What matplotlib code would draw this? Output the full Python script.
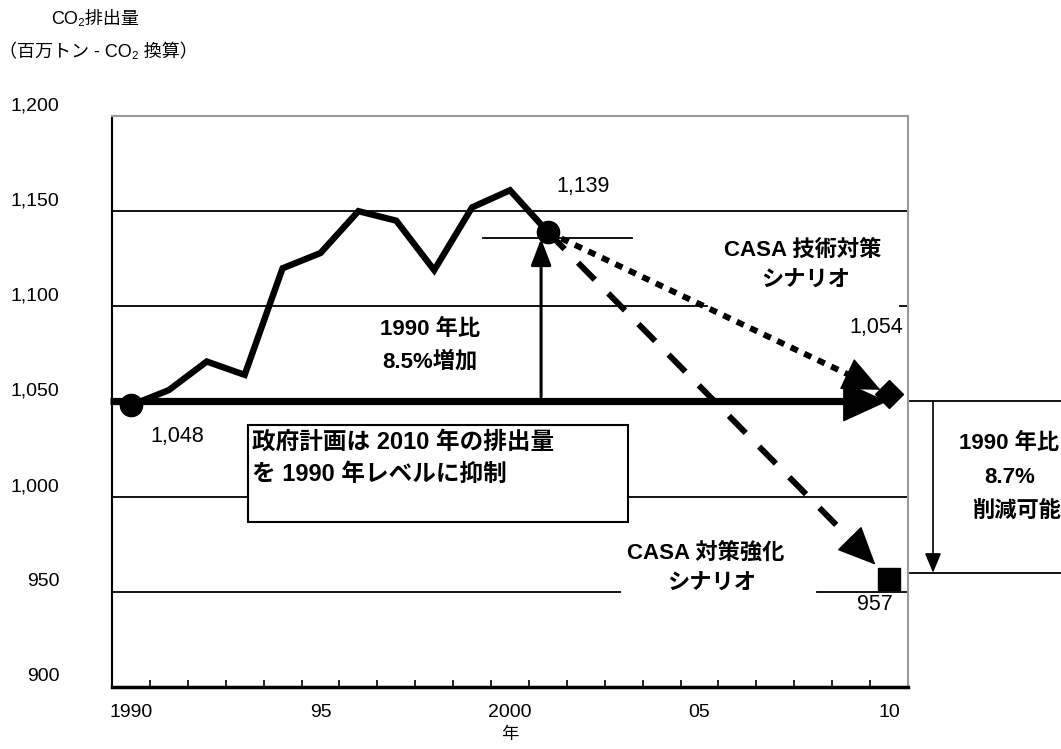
import matplotlib
matplotlib.use('Agg')
import matplotlib.pyplot as plt
import matplotlib.transforms as mtransforms
from matplotlib.patches import Rectangle
import numpy as np

plt.rcParams['font.family'] = ['Liberation Sans', 'Noto Sans CJK JP', 'DejaVu Sans']

# 実績値 (百万トン-CO2)
years = np.arange(1990, 2002)
emissions = [1048, 1056, 1071, 1064, 1120, 1128, 1150, 1145, 1119, 1152, 1161, 1139]
base_level = 1050          # 1990年レベル (政府計画)
target_year = 2010
tech_scenario = 1054       # CASA 技術対策シナリオ
strong_scenario = 957      # CASA 対策強化シナリオ

yticks = [900, 950, 1000, 1050, 1100, 1150, 1200]
xtick_years = [1990, 1995, 2000, 2005, 2010]
xtick_labels = ['1990', '95', '2000', '05', '10']

x = years - 1990
x_last = x[-1]
x_target = target_year - 1990

fig = plt.figure(figsize=(10.61, 7.49), dpi=100)
ax = fig.add_axes([112 / 1061, 1 - 687 / 749, 796 / 1061, 571 / 749])
ax.set_xlim(-0.5, 20.5)
ax.set_ylim(900, 1200)

# 枠
for side in ['top', 'right']:
    ax.spines[side].set_color('#9a9a9a')
    ax.spines[side].set_linewidth(1.5)
ax.spines['left'].set_linewidth(1.5)
ax.spines['bottom'].set_linewidth(2.5)

# 目盛
ax.set_xticks([y - 1990 for y in xtick_years])
ax.set_xticklabels(xtick_labels)
ax.set_xticks(np.arange(-0.5, 21, 1), minor=True)
ax.tick_params(axis='x', which='major', length=0, pad=12, labelsize=14)
ax.tick_params(axis='x', which='minor', direction='in', length=5, width=1.2)
ax.set_yticks([])
ax.set_xlabel('年', fontsize=12.5, labelpad=4)

ylab_tr = mtransforms.offset_copy(ax.get_yaxis_transform(), fig=fig, y=10, units='dots')
for v in yticks:
    ax.text(-0.066, v, f'{v:,}', transform=ylab_tr, ha='right', va='center', fontsize=14)

# 横線
grid_kw = dict(color='k', lw=1.3, zorder=1)
ax.axhline(1150, **grid_kw)
ax.axhline(1100, xmax=0.747, **grid_kw)
ax.axhline(1100, xmin=0.99, **grid_kw)
ax.axhline(1000, **grid_kw)
ax.axhline(950, xmax=0.638, **grid_kw)
ax.axhline(950, xmin=0.886, **grid_kw)

# 政府計画の説明枠
ax.add_patch(Rectangle((3.09, 986.8), 10.02, 50.6, facecolor='white',
                       edgecolor='k', lw=1.5, zorder=2))
ax.text(3.2, 1028.4, '政府計画は 2010 年の排出量', fontsize=17, fontweight='bold',
        ha='left', va='center', zorder=3)
ax.text(3.2, 1011.6, 'を 1990 年レベルに抑制', fontsize=17, fontweight='bold',
        ha='left', va='center', zorder=3)

# 1990年レベルの太矢印
ax.plot([-0.55, 19.0], [base_level, base_level], color='k', lw=5.2,
        solid_capstyle='butt', zorder=4, clip_on=False)
ax.annotate('', xy=(19.95, base_level), xytext=(18.9, base_level),
            arrowprops=dict(arrowstyle='-|>,head_length=1.2,head_width=0.55',
                            mutation_scale=25, lw=1, color='k', shrinkA=0, shrinkB=0),
            zorder=5)

# 実績の折れ線
ax.plot(x, emissions, color='k', lw=4.6, solid_joinstyle='miter',
        solid_capstyle='butt', zorder=6)
ax.plot([x[0], x_last], [emissions[0], emissions[-1]], 'o', ms=16, color='k', zorder=7)


def scenario_arrow(y_end, ls, t_body, t_head, t_tip):
    x0, y0 = x_last, emissions[-1]
    dx, dy = x_target - x0, y_end - y0
    ax.plot([x0, x0 + dx * t_body], [y0, y0 + dy * t_body], color='k', lw=4.3,
            linestyle=ls, dash_capstyle='butt', zorder=5)
    ax.annotate('', xy=(x0 + dx * t_tip, y0 + dy * t_tip),
                xytext=(x0 + dx * t_head, y0 + dy * t_head),
                arrowprops=dict(arrowstyle='-|>,head_length=1.0,head_width=0.45',
                                mutation_scale=25, lw=1, color='k',
                                shrinkA=0, shrinkB=0), zorder=5)


scenario_arrow(tech_scenario, (0, (1.3, 1.2)), 0.9, 0.9, 0.975)
scenario_arrow(strong_scenario, (0, (4.0, 3.2)), 0.885, 0.885, 0.96)

ax.plot([x_target], [tech_scenario], 'D', ms=14, color='k', zorder=8, clip_on=False)
ax.plot([x_target], [strong_scenario], 's', ms=16, color='k', zorder=8, clip_on=False)

# 1990年比 8.5% 増加
ax.plot([9.3, 13.22], [1136, 1136], color='k', lw=1.3, zorder=3)
ax.annotate('', xy=(10.82, 1135.5), xytext=(10.82, 1052.5),
            arrowprops=dict(arrowstyle='-|>,head_length=0.65,head_width=0.25',
                            mutation_scale=25, lw=2.2, color='k',
                            shrinkA=0, shrinkB=0), zorder=5)

# 右側の削減幅
ax.plot([20.55, 24.6], [base_level, base_level], color='k', lw=1.3, clip_on=False)
ax.plot([20.55, 24.6], [960, 960], color='k', lw=1.3, clip_on=False)
ax.annotate('', xy=(21.16, 960), xytext=(21.16, base_level),
            arrowprops=dict(arrowstyle='-|>,head_length=0.6,head_width=0.25',
                            mutation_scale=20, lw=1.2, color='k',
                            shrinkA=0, shrinkB=0), annotation_clip=False)

# 数値ラベル
num_kw = dict(fontsize=15.5, ha='center', va='center')
ax.text(11.93, 1163.2, f'{emissions[-1]:,}', **num_kw)
ax.text(1.21, 1031.6, f'{emissions[0]:,}', **num_kw)
ax.text(19.66, 1088.9, f'{tech_scenario:,}', **num_kw)
ax.text(19.63, 943.2, f'{strong_scenario:,}', **num_kw)

# 説明文
bold_kw = dict(fontsize=16, fontweight='bold', ha='center', va='center')
ax.text(7.89, 1087.9, '1990 年比', **bold_kw)
ax.text(7.89, 1071.1, '8.5%増加', **bold_kw)
ax.text(17.73, 1129.5, 'CASA 技術対策', **bold_kw)
ax.text(17.81, 1113.2, 'シナリオ', **bold_kw)
ax.text(15.17, 970.5, 'CASA 対策強化', **bold_kw)
ax.text(15.33, 954.2, 'シナリオ', **bold_kw)
ax.text(23.17, 1027.9, '1990 年比', clip_on=False, **bold_kw)
ax.text(23.19, 1010.0, '8.7%', clip_on=False, **bold_kw)
ax.text(23.38, 992.1, '削減可能', clip_on=False, **bold_kw)

# 単位
fig.text(95 / 1061, 1 - 20 / 749, 'CO₂排出量', ha='center', va='center', fontsize=13)
fig.text(98 / 1061, 1 - 52 / 749, '（百万トン - CO₂ 換算）', ha='center', va='center',
         fontsize=13)

fig.savefig('out.png', dpi=100)
